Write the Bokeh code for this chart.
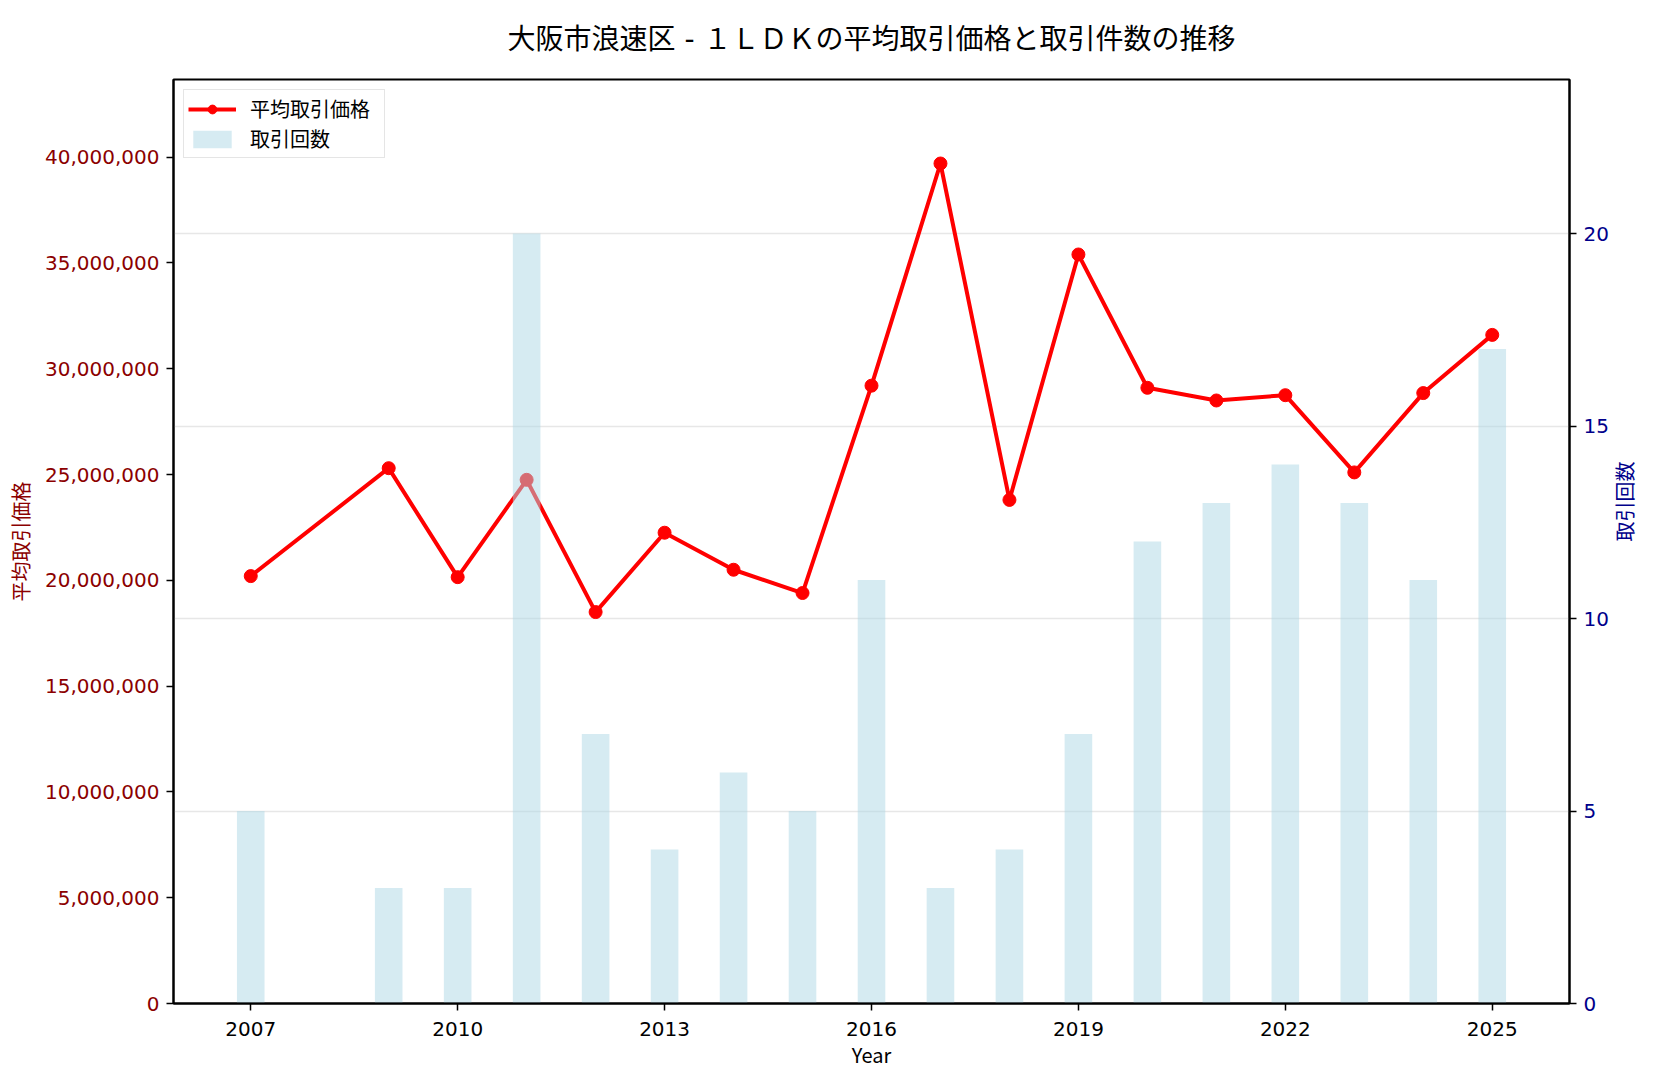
import math
from bokeh.plotting import figure
from bokeh.models import (Range1d, LinearAxis, Grid, FixedTicker, SingleIntervalTicker,
                          NumeralTickFormatter, Legend, LegendItem, ColumnDataSource)
from bokeh.embed import file_html
from bokeh.resources import INLINE

# 大阪市浪速区 1LDK 年別データ
years = [2007, 2009, 2010, 2011, 2012, 2013, 2014, 2015, 2016, 2017,
         2018, 2019, 2020, 2021, 2022, 2023, 2024, 2025]
avg_price = [20200000, 25300000, 20150000, 24750000, 18500000, 22250000, 20500000,
             19400000, 29200000, 39700000, 23800000, 35400000, 29100000, 28500000,
             28750000, 25100000, 28850000, 31600000]
counts = [5, 3, 3, 20, 7, 4, 6, 5, 11, 3, 4, 7, 12, 13, 14, 13, 11, 17]
x_ticks = list(range(years[0], years[-1] + 1, 3))

title_text = "大阪市浪速区 - １ＬＤＫの平均取引価格と取引件数の推移"
FONT = "Noto Sans CJK JP"
NUM_FONT = "DejaVu Sans"

src = ColumnDataSource(data=dict(year=years, price=avg_price, count=counts))

bar_w = 0.4
span = (years[-1] + bar_w / 2) - (years[0] - bar_w / 2)
x_lo = years[0] - bar_w / 2 - span * 0.05
x_hi = years[-1] + bar_w / 2 + span * 0.05

p = figure(frame_width=1396, frame_height=924, output_backend="svg", toolbar_location=None,
           x_range=Range1d(x_lo, x_hi), y_range=Range1d(0, max(avg_price) * 1.1),
           min_border_left=173, min_border_right=76, min_border_top=78, min_border_bottom=70)
p.extra_y_ranges = {"count": Range1d(0, max(counts) * 1.2)}

p.title.text = title_text
p.title.align = "center"
p.title.vertical_align = "top"
# 枠の高さは DejaVu の字高で測り、漢字は Noto Sans CJK JP で描く
p.title.text_font = "DejaVu Sans, Noto Sans CJK JP"
p.title.text_font_size = "28px"
p.title.text_font_style = "normal"
p.title.text_color = "black"
p.title.standoff = 44

p.grid.visible = False
p.outline_line_color = "black"
p.outline_line_width = 2

# 平均取引価格（折れ線）
line = p.line("year", "price", source=src, line_color="red", line_width=4)
dots = p.scatter("year", "price", source=src, size=13, color="red")

# 取引回数（棒）
bars = p.vbar(x="year", top="count", width=bar_w, source=src, y_range_name="count",
              fill_color="lightblue", fill_alpha=0.5, line_color=None)

xa = p.xaxis[0]
xa.ticker = FixedTicker(ticks=x_ticks)
xa.axis_label = "Year"

ya = p.yaxis[0]
ya.ticker = SingleIntervalTicker(interval=5000000)
ya.formatter = NumeralTickFormatter(format="0,0")
ya.axis_label = "平均取引価格"
ya.major_label_text_color = "darkred"
ya.axis_label_text_color = "darkred"

ra = LinearAxis(y_range_name="count", ticker=SingleIntervalTicker(interval=5))
ra.axis_label = "取引回数"
ra.major_label_text_color = "darkblue"
ra.axis_label_text_color = "darkblue"
ra.axis_label_orientation = math.pi / 2
p.add_layout(ra, "right")

for ax in (xa, ya, ra):
    ax.major_label_text_font = NUM_FONT
    ax.major_label_text_font_size = "20px"
    ax.axis_label_text_font = FONT
    ax.axis_label_text_font_size = "20px"
    ax.axis_label_text_font_style = "normal"
    ax.minor_tick_line_color = None
    ax.major_tick_in = 0
    ax.major_tick_out = 7
    ax.major_tick_line_width = 1.5
    ax.axis_line_width = 2
    ax.major_label_standoff = 7

xa.major_label_text_color = "black"
xa.axis_label_text_color = "black"
xa.major_label_standoff = 11
xa.axis_label_standoff = 1
ya.axis_label_standoff = 7
ra.axis_label_standoff = 13

p.add_layout(Grid(dimension=1, ticker=ra.ticker, y_range_name="count",
                  grid_line_color="#b0b0b0", grid_line_alpha=0.3, grid_line_width=1.5))

legend = Legend(items=[LegendItem(label="平均取引価格", renderers=[line, dots]),
                       LegendItem(label="取引回数", renderers=[bars])],
                location="top_left", margin=10, padding=4, spacing=1,
                glyph_width=48, glyph_height=22, label_height=22, label_standoff=14,
                label_width=130,
                label_text_font=FONT, label_text_font_size="20px", label_text_color="black",
                border_line_color="#cccccc", border_line_width=1.5,
                background_fill_alpha=0.8)
p.add_layout(legend)

open("out.html", "w").write(file_html(p, INLINE))
